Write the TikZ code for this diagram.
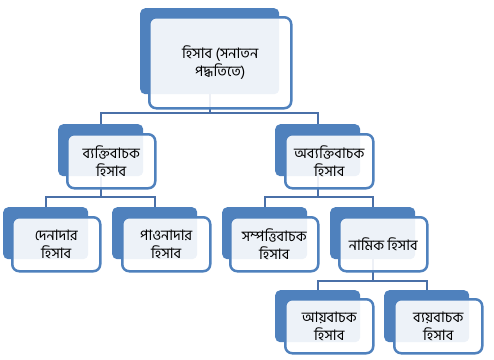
\documentclass[tikz,border=0pt]{standalone}
\usepackage{fontspec}
\newfontfamily\bnfont[Script=Bengali]{Hind Siliguri}
\definecolor{accblue}{HTML}{4F81BD}
\definecolor{linkblue}{HTML}{4A70A8}
\begin{document}
\begin{tikzpicture}[x=1pt,y=-1pt,
  every node/.style={font=\bnfont\fontsize{14.5}{18}\selectfont},
  backbox/.style={rectangle,rounded corners=5pt,fill=accblue,anchor=north west,
    minimum width=85pt,minimum height=52pt,inner sep=0pt},
  frontbox/.style={rectangle,rounded corners=7pt,draw=accblue,line width=2.5pt,
    fill=white,fill opacity=0.9,text opacity=1,draw opacity=1,anchor=north west,
    minimum width=88pt,minimum height=54pt,align=center,inner sep=2pt},
  link/.style={draw=linkblue,line width=2pt}]
\useasboundingbox (0,0) rectangle (494,359);
\coordinate (busa) at (0,113);
\coordinate (busb) at (0,197);
\coordinate (busc) at (0,281);
% back plates
\node[backbox,minimum width=139pt,minimum height=86pt] (rootb) at (140,8) {};
\node[backbox] (persb) at (58,124) {};
\node[backbox] (impb) at (275,124) {};
\node[backbox] (debtb) at (3,207) {};
\node[backbox] (credb) at (112,207) {};
\node[backbox] (assetb) at (222,207) {};
\node[backbox] (nomb) at (330,207) {};
\node[backbox] (incb) at (275,290) {};
\node[backbox] (expb) at (384,290) {};
% connectors
\draw[link] (rootb.south) -- (rootb.south |- busa) -| (persb.north);
\draw[link] (rootb.south |- busa) -| (impb.north);
\draw[link] (persb.south) -- (persb.south |- busb) -| (debtb.north);
\draw[link] (persb.south |- busb) -| (credb.north);
\draw[link] (impb.south) -- (impb.south |- busb) -| (assetb.north);
\draw[link] (impb.south |- busb) -| (nomb.north);
\draw[link] (nomb.south) -- (nomb.south |- busc) -| (incb.north);
\draw[link] (nomb.south |- busc) -| (expb.north);
% front boxes
\node[frontbox,minimum width=142pt,minimum height=91pt] (root) at (148,16) {হিসাব (সনাতন\\পদ্ধতিতে)};
\node[frontbox] (pers) at (66,133) {ব্যক্তিবাচক\\হিসাব};
\node[frontbox] (imp) at (284,133) {অব্যক্তিবাচক\\হিসাব};
\node[frontbox] (debt) at (11,216) {দেনাদার\\হিসাব};
\node[frontbox] (cred) at (121,216) {পাওনাদার\\হিসাব};
\node[frontbox] (asset) at (229,216) {সম্পত্তিবাচক\\হিসাব};
\node[frontbox] (nom) at (338,216) {নামিক হিসাব};
\node[frontbox] (inc) at (284,298) {আয়বাচক\\হিসাব};
\node[frontbox] (exp) at (393,298) {ব্যয়বাচক\\হিসাব};
\end{tikzpicture}
\end{document}
